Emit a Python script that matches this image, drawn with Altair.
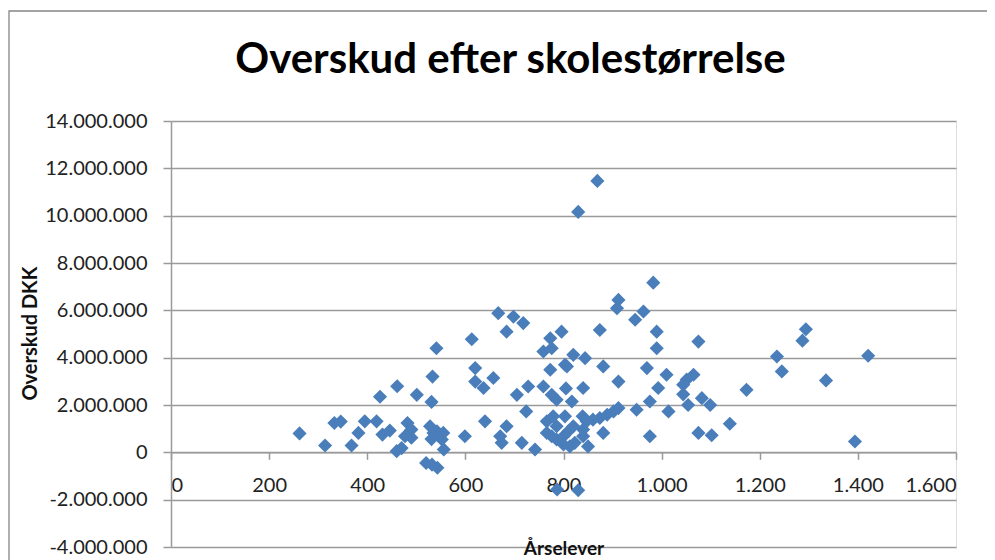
import altair as alt
import pandas as pd

# Årselever (students per year) per school
elever = [262, 314, 333, 346, 368, 382, 395, 419, 426, 461, 431, 446, 460, 470, 482, 490, 477, 490, 501,
          533, 541, 531, 528, 535, 542, 555, 531, 552, 556, 520, 532, 543, 599, 613, 620, 620, 637, 657,
          640, 667, 698, 718, 684, 684, 671, 674, 705, 728, 724, 715, 742, 759, 776, 773, 796, 773, 803,
          759, 776, 786, 805, 766, 779, 786, 766, 776, 786, 800, 810, 800, 787, 830, 869, 830, 983, 912,
          909, 963, 946, 874, 990, 990, 820, 844, 807, 881, 970, 1010, 912, 840, 993, 976, 1014, 949,
          912, 902, 889, 874, 860, 847, 839, 817, 803, 820, 840, 881, 976, 813, 823, 840, 850, 1075,
          1235, 1245, 1294, 1287, 1173, 1065, 1051, 1044, 1044, 1054, 1082, 1099, 1075, 1102, 1139,
          1421, 1335, 1394]

# Overskud DKK (surplus) per school
overskud = [800000, 290000, 1240000, 1300000, 290000, 820000, 1310000, 1310000, 2350000, 2790000,
            750000, 920000, 50000, 180000, 1240000, 960000, 680000, 620000, 2430000, 3200000, 4400000,
            2130000, 1100000, 820000, 890000, 820000, 560000, 540000, 120000, -450000, -520000, -650000,
            680000, 4780000, 3560000, 2990000, 2720000, 3140000, 1310000, 5880000, 5730000, 5460000,
            5100000, 1100000, 680000, 400000, 2430000, 2780000, 1730000, 400000, 120000, 4260000,
            4400000, 4820000, 5100000, 3490000, 3700000, 2780000, 2430000, 2220000, 2700000, 1310000,
            1520000, 1100000, 820000, 680000, 540000, 680000, 890000, 330000, -1570000, -1600000,
            11470000, 10160000, 7170000, 6440000, 6090000, 5950000, 5600000, 5170000, 5100000, 4400000,
            4120000, 3980000, 3630000, 3630000, 3560000, 3280000, 2990000, 2720000, 2720000, 2150000,
            1730000, 1800000, 1870000, 1730000, 1590000, 1450000, 1380000, 1310000, 1520000, 2150000,
            1520000, 1100000, 960000, 820000, 680000, 250000, 400000, 680000, 250000, 4680000, 4050000,
            3420000, 5200000, 4720000, 2640000, 3280000, 3070000, 2860000, 2450000, 2000000, 2290000,
            2000000, 820000, 720000, 1210000, 4080000, 3040000, 460000]

x_ticks = [0, 200, 400, 600, 800, 1000, 1200, 1400, 1600]
y_ticks = [-4000000, -2000000, 0, 2000000, 4000000, 6000000, 8000000, 10000000, 12000000, 14000000]

df = pd.DataFrame({"Årselever": elever, "Overskud DKK": overskud})

W, H = 785, 426
PAD_R, PAD_B = 31, 13
FONT = "Lato"
GRAY = "#9a9a9a"
label_expr = "(datum.value < 0 ? '-' : '') + replace(format(abs(datum.value), ','), /,/g, '.')"

points = alt.Chart(df).mark_point(
    shape="diamond", filled=True, size=200, color="#4a7ebb", opacity=1
).encode(
    x=alt.X("Årselever:Q",
            scale=alt.Scale(domain=[0, 1600], nice=False, zero=False),
            axis=alt.Axis(values=x_ticks, labelExpr=label_expr, grid=False, offset=-94.7,
                          domainColor=GRAY, domainWidth=1.5, tickColor=GRAY, tickWidth=1.5,
                          tickSize=7, labelPadding=16, labelFont=FONT, labelFontSize=20,
                          labelColor="#222222", title="Årselever", titleFont=FONT,
                          titleFontSize=19, titleFontWeight="bold", titleColor="#111111",
                          titleY=102, titleBaseline="alphabetic", zindex=0)),
    y=alt.Y("Overskud DKK:Q",
            scale=alt.Scale(domain=[-4000000, 14000000], nice=False, zero=False),
            axis=alt.Axis(values=y_ticks, labelExpr=label_expr, grid=True, gridColor=GRAY,
                          gridWidth=1.5, domainColor=GRAY, domainWidth=1.5, tickColor=GRAY,
                          tickWidth=1.5, tickSize=8, labelPadding=16, labelFont=FONT,
                          labelFontSize=20, labelColor="#222222", title="Overskud DKK",
                          titleFont=FONT, titleFontSize=20, titleFontWeight="bold",
                          titleColor="#111111", titleX=-141, titleY=212, titleAngle=270,
                          titleBaseline="middle", titleAlign="center", zindex=0)),
)

# chart-area border: right and bottom edges fall outside the picture, as in the reference
border_df = pd.DataFrame({"k": [0]})
border = alt.Chart(border_df).mark_rect(
    fillOpacity=0, stroke="#868686", strokeWidth=1.3
).encode(
    x=alt.value(-162), x2=alt.value(W + 200), y=alt.value(-110), y2=alt.value(H + 200)
)

chart = alt.layer(border, points).properties(
    width=W, height=H,
    autosize=alt.AutoSizeParams(type="none"),
    padding={"left": 163, "top": 113, "right": PAD_R, "bottom": PAD_B},
    title=alt.TitleParams(text="Overskud efter skolestørrelse", font=FONT, fontSize=42,
                          fontWeight="bold", color="#000000", anchor="middle",
                          baseline="alphabetic", offset=0, dx=-53, dy=105),
).configure_view(strokeWidth=0).configure(background="white")

chart.save("out.html", embed_options={"renderer": "svg", "actions": False})
